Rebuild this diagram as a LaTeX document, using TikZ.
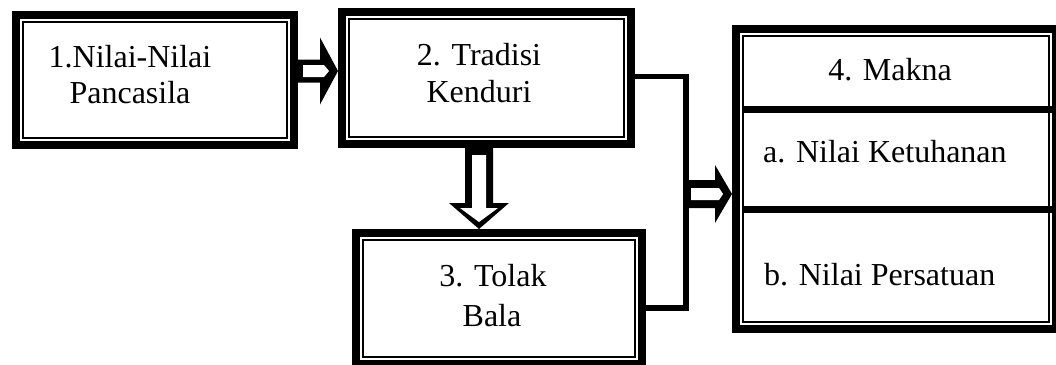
\documentclass[tikz,border=0pt]{standalone}
\usepackage{fontspec}
\setmainfont{Liberation Serif}
\usetikzlibrary{calc}

% horizontal block arrow: #1 start, #2 tip, #3 shaft half height,
% #4 inner half height, #5 head half height, #6 head length
\newcommand\hblockarrow[6]{%
  \fill let \p1=(#1), \p2=(#2) in
    (\x1,\y2+#3) -- (\x2-#6,\y2+#3) -- (\x2-#6,\y2+#5) -- (\x2,\y2)
    -- (\x2-#6,\y2-#5) -- (\x2-#6,\y2-#3) -- (\x1,\y2-#3) -- cycle;
  \fill[white] let \p1=(#1), \p2=(#2) in
    (\x1+5pt,\y2+#4) -- (\x2-#6+4pt,\y2+#4) -- (\x2-9pt,\y2)
    -- (\x2-#6+4pt,\y2-#4) -- (\x1+5pt,\y2-#4) -- cycle;
}

% downward block arrow with an open head: #1 start, #2 tip
\newcommand\vblockarrow[2]{%
  \fill let \p1=(#1), \p2=(#2) in
    (\x2-14pt,\y1) -- (\x2+14pt,\y1) -- (\x2+14pt,\y2+26pt) -- (\x2+30pt,\y2+26pt)
    -- (\x2,\y2) -- (\x2-30pt,\y2+26pt) -- (\x2-14pt,\y2+26pt) -- cycle;
  \fill[white] let \p1=(#1), \p2=(#2) in
    (\x2-7pt,\y1-7pt) -- (\x2+7pt,\y1-7pt) -- (\x2+7pt,\y2+21pt) -- (\x2+19pt,\y2+21pt)
    -- (\x2,\y2+7pt) -- (\x2-19pt,\y2+21pt) -- (\x2-7pt,\y2+21pt) -- cycle;
}

\begin{document}
\begin{tikzpicture}[x=1pt,y=-1pt,
  frame/.style={draw, line width=8pt, inner sep=0pt, outer sep=4pt, line join=miter},
  label/.style={inner sep=0pt, font=\fontsize{32pt}{37pt}\selectfont},
  link/.style={line width=5.5pt, line join=miter},
  rule/.style={line width=6.5pt}]
\useasboundingbox (0,0) rectangle (1056,364);

% framed boxes
\node[frame, minimum width=278pt, minimum height=130pt] (b1) at (155,80) {};
\node[frame, minimum width=289pt, minimum height=132pt] (b2) at (486.5,78) {};
\node[frame, minimum width=286pt, minimum height=131pt] (b3) at (499,298.5) {};
\node[frame, minimum width=320pt, minimum height=300pt] (b4) at (896,179) {};

% thin inner frames
\foreach \n in {b1,b2,b3,b4}
  \draw[line width=1.6pt] ([xshift=11pt,yshift=-11pt]\n.north west)
    rectangle ([xshift=-11pt,yshift=11pt]\n.south east);

% rows of the meaning table
\draw[rule] ($(b4.north west)+(11,84.5)$) -- ($(b4.north east)+(-4,84.5)$);
\draw[rule] ($(b4.north west)+(11,184.5)$) -- ($(b4.north east)+(-4,184.5)$);

% texts
\node[label, anchor=base] (t1a) at (130,67) {1.Nilai-Nilai};
\node[label, anchor=base] (t1b) at (130,103) {Pancasila};
\node[label, anchor=base] (t2a) at (479,65) {2. Tradisi};
\node[label, anchor=base] (t2b) at (479,102) {Kenduri};
\node[label, anchor=base] (t3a) at (493,286) {3. Tolak};
\node[label, anchor=base] (t3b) at (492,326) {Bala};
\node[label, anchor=base] (t4) at (890,80) {4. Makna};
\node[label, anchor=base west] (t4a) at (763,162) {a. Nilai Ketuhanan};
\node[label, anchor=base west] (t4b) at (764,285) {b. Nilai Persatuan};

% bracket joining boxes 2 and 3
\coordinate (j1) at (686,76.5);
\coordinate (j2) at (686,308);
\coordinate (j3) at (686,194);
\draw[link] (b2.east |- j1) -- (j1) -- (j2) -- (b3.east |- j2);

% block arrows
\hblockarrow{$(b1.east)+(0,-9)$}{$(b2.west)+(0,-7)$}{11.5pt}{6pt}{33.5pt}{18pt}
\hblockarrow{j3}{b4.west |- j3}{14pt}{6pt}{29pt}{17pt}
\vblockarrow{$(b2.south)+(-7.5,0)$}{$(b2.south)+(-7.5,81)$}
\end{tikzpicture}
\end{document}
